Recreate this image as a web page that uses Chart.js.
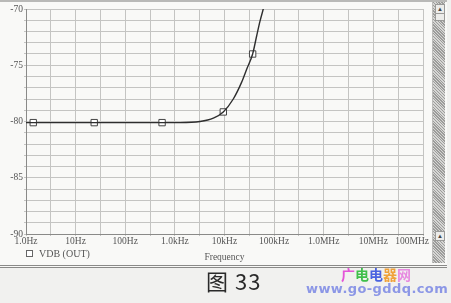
<!DOCTYPE html>
<html>
<head>
<meta charset="utf-8">
<script src="https://cdn.jsdelivr.net/npm/chart.js@4.4.1/dist/chart.umd.min.js"></script>
<style>
  html,body{margin:0;padding:0;}
  body{width:451px;height:303px;background:#f1f1ef;position:relative;overflow:hidden;font-family:"Liberation Serif",serif;}
  #panel{position:absolute;left:0;top:0;width:447px;height:263px;background:#f9f9f7;border-top:2px solid #b9b9b7;border-bottom:3px double #8a8a88;}
  #wrap{position:absolute;left:0;top:0;width:432px;height:265px;}
  #scroll{position:absolute;left:432px;top:2px;width:12px;height:261px;
    background:repeating-linear-gradient(45deg,#9c9c9a 0 1px,#d6d6d4 1px 2px);border-left:1px solid #bdbdbb;}
  .btn{position:absolute;left:2px;width:8px;background:#ececea;border:1px solid #9a9a98;font-size:6px;line-height:8px;text-align:center;color:#444;}
  #legend{position:absolute;left:26px;top:248px;font-size:10px;color:#555;white-space:nowrap;}
  #legend span.box{display:inline-block;width:5px;height:5px;border:1px solid #666;background:#fff;margin-right:6px;vertical-align:0px;}
  #caption{position:absolute;left:206px;top:264px;font-family:"Noto Sans CJK SC","Noto Sans",sans-serif;font-size:22px;color:#2a2a2a;letter-spacing:1px;white-space:nowrap;}
  #wm1{position:absolute;left:341px;top:265px;font-family:"Noto Sans CJK SC",sans-serif;font-weight:bold;font-size:14px;line-height:18px;white-space:nowrap;}
  #wm2{position:absolute;left:306px;top:281px;font-family:"DejaVu Sans",sans-serif;font-weight:bold;font-size:13px;line-height:16px;color:#8c97e6;letter-spacing:0.4px;white-space:nowrap;}
</style>
</head>
<body>
<div id="panel"></div>
<div id="wrap"><canvas id="c" width="432" height="265"></canvas></div>
<div id="scroll"><div class="btn" style="top:2px;height:8px;">▲</div><div class="btn" style="top:11px;height:6px;"></div><div class="btn" style="top:229px;height:8px;">▲</div></div>
<div id="legend"><span class="box"></span>VDB (OUT)</div>
<div id="caption">图 33</div>
<div id="wm1"><span style="color:#e455d8">广</span><span style="color:#3fbf4a">电</span><span style="color:#4a63e0">电</span><span style="color:#f0a23a">器</span><span style="color:#e78ae0">网</span></div>
<div id="wm2">www.go-gddq.com</div>
<script>
// ---- data ----
const curveFreq = [1, 1.4, 23.7, 552, 1273, 3214, 5957, 9460, 15030, 22180, 27970, 36900, 44430, 51800, 60360, 64000];
const curveDb   = [-80.1, -80.1, -80.1, -80.1, -80.1, -80.0, -79.7, -79.15, -78.0, -76.5, -75.35, -74.0, -72.4, -71.1, -70.0, -69.5];
const markerFreq = [1.4, 23.7, 552, 9460, 36900];
const markerDb   = [-80.1, -80.1, -80.1, -79.15, -74.0];
const decadeValues = [1, 10, 100, 1e3, 1e4, 1e5, 1e6, 1e7, 1e8];
const decadeLabels = ['1.0Hz', '10Hz', '100Hz', '1.0kHz', '10kHz', '100kHz', '1.0MHz', '10MHz', '100MHz'];
const yLabels = [-70, -75, -80, -85, -90];
const seriesName = 'VDB (OUT)';
const xTitle = 'Frequency';

const lineData = curveFreq.map((f, i) => ({x: f, y: curveDb[i]}));
const markData = markerFreq.map((f, i) => ({x: f, y: markerDb[i]}));

// gridlines at every decade and half-decade
const gridTicks = [];
decadeValues.forEach((d, i) => {
  gridTicks.push({value: d});
  if (i < decadeValues.length - 1) gridTicks.push({value: d * Math.sqrt(10)});
});

const tickFont = {family: '"Liberation Serif", serif', size: 9.5};
const lastIdx = decadeValues.length - 1;

// the last decade label is kept inside the frame (right-aligned at its tick)
const lastLabelPlugin = {
  id: 'lastLabel',
  afterDraw(chart) {
    const sx = chart.scales.x, ctx = chart.ctx;
    const px = sx.getPixelForValue(decadeValues[lastIdx]);
    ctx.save();
    ctx.font = '9.5px "Liberation Serif", serif';
    ctx.fillStyle = '#555';
    ctx.textAlign = 'right';
    ctx.textBaseline = 'middle';
    ctx.fillText(decadeLabels[lastIdx], px + 6, sx.top + 2 + 9.5 * 1.2 / 2);
    ctx.restore();
  }
};

new Chart(document.getElementById('c'), {
  type: 'scatter',
  data: {
    datasets: [
      {label: seriesName, data: lineData, showLine: true, borderColor: '#2e2e2e', borderWidth: 1.4,
       pointRadius: 0, cubicInterpolationMode: 'monotone', fill: false},
      {label: seriesName, data: markData, showLine: false, pointStyle: 'rect', pointRadius: 4.5,
       pointBackgroundColor: '#ffffff', pointBorderColor: '#444', pointBorderWidth: 1}
    ]
  },
  options: {
    responsive: false,
    animation: false,
    layout: {padding: {top: 9, right: 9, left: 0, bottom: 0}},
    plugins: {legend: {display: false}, tooltip: {enabled: false}},
    scales: {
      x: {
        type: 'logarithmic', min: 1, max: 1e8,
        afterBuildTicks: s => { s.ticks = gridTicks.map(t => ({value: t.value})); },
        afterFit: s => { s.height = 31; s.paddingLeft = 0; s.paddingRight = 0; },
        grid: {color: '#c4c4c2', lineWidth: 1, drawTicks: true, tickLength: 2},
        border: {color: '#8a8a88', width: 1},
        ticks: {
          autoSkip: false, maxRotation: 0, padding: 0, color: '#555', font: tickFont,
          callback: (v) => {
            const i = decadeValues.findIndex(d => Math.abs(d - v) / d < 1e-6);
            return (i >= 0 && i < lastIdx) ? decadeLabels[i] : '';
          }
        },
        title: {display: true, text: xTitle, color: '#555', font: tickFont, padding: {top: 1, bottom: 2}}
      },
      y: {
        min: -90, max: -70,
        afterFit: s => { s.width = 26; s.paddingTop = 0; s.paddingBottom = 0; },
        grid: {color: '#c4c4c2', lineWidth: 1, drawTicks: true, tickLength: 2},
        border: {color: '#8a8a88', width: 1},
        ticks: {
          stepSize: 1, autoSkip: false, padding: 1, color: '#555', font: tickFont,
          callback: (v) => yLabels.includes(v) ? String(v) : ''
        }
      }
    }
  },
  plugins: [lastLabelPlugin]
});
</script>
</body>
</html>
